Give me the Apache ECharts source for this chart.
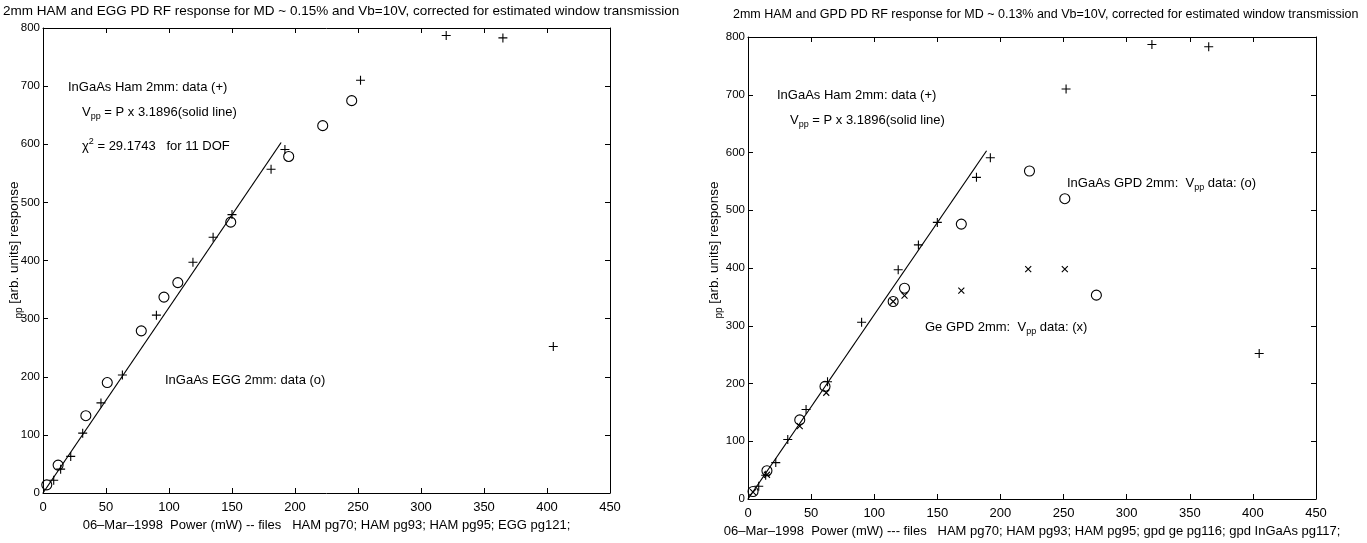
<!DOCTYPE html>
<html><head><meta charset="utf-8">
<script src="https://cdn.jsdelivr.net/npm/echarts@6/dist/echarts.min.js"></script>
<style>html,body{margin:0;padding:0;background:#fff}#c{width:1367px;height:543px}</style>
</head><body><div id="c"></div>
<script>
// ---- data ----
const xMin = 0, xMax = 450, xStep = 50;
const yMin = 0, yMax = 800, yStep = 100;

// InGaAs Hamamatsu 2mm, "+" markers (same data in both panels)
const hamPlus = [[8.5,22],[14,41],[22,63],[31.5,103],[46,155],[63,203],[90,306],[119,397],[135,440],[150,479],[181,557],[192,591],[252,710],[320,787],[365,783],[405,252]];
// fit: Vpp = P x 3.1896, drawn over the fitted range
const fitLine = [[0,0],[189,603]];
// InGaAs EG&G 2mm, "o" markers (left panel)
const eggCircle = [[3,14],[12,48],[34,133],[51,190],[78,279],[96,337],[107,362],[149,466],[195,579],[222,632],[245,675]];
// InGaAs GPD 2mm, "o" markers (right panel)
const gpdInGaAsCircle = [[4,13],[15,49],[41,137],[61,195],[115,342],[124,365],[169,476],[223,568],[251,520],[276,353]];
// Ge GPD 2mm, "x" markers (right panel)
const gpdGeCross = [[4,12],[15,42],[41,126],[62,184],[115,342],[124,352],[169,361],[222,398],[251,398]];

const titleLeft = '2mm HAM and EGG PD RF response for MD ~ 0.15% and Vb=10V, corrected for estimated window transmission';
const titleRight = '2mm HAM and GPD PD RF response for MD ~ 0.13% and Vb=10V, corrected for estimated window transmission';
const xNameLeft = '06\u2013Mar\u20131998  Power (mW) -- files   HAM pg70; HAM pg93; HAM pg95; EGG pg121;';
const xNameRight = '06\u2013Mar\u20131998  Power (mW) --- files   HAM pg70; HAM pg93; HAM pg95; gpd ge pg116; gpd InGaAs pg117;';
const yName = '{s|pp}{n| [arb. units] response}';

// ---- styling ----
const FONT = '"Liberation Sans", Arial, sans-serif';
const black = '#000';
const PLUS = 'path://M0,5L10,5M5,0L5,10';
const CROSS = 'path://M0,0L10,10M10,0L0,10';

function xAxes(gi, name){
  const base = {gridIndex:gi, type:'value', min:xMin, max:xMax, interval:xStep,
    axisLine:{onZero:false, lineStyle:{color:black, width:1}},
    axisTick:{inside:true, length:5, lineStyle:{color:black}},
    splitLine:{show:false}};
  return [
    Object.assign({}, base, {position:'bottom', name:name, nameLocation:'middle', nameGap:22,
      nameTextStyle:{color:black, fontSize:13, fontFamily:FONT, verticalAlign:'top'},
      axisLabel:{color:black, fontSize:13, fontFamily:FONT, margin:8}}),
    Object.assign({}, base, {position:'top', axisLabel:{show:false}})
  ];
}
function yAxes(gi){
  const base = {gridIndex:gi, type:'value', min:yMin, max:yMax, interval:yStep,
    axisLine:{onZero:false, lineStyle:{color:black, width:1}},
    axisTick:{inside:true, length:5, lineStyle:{color:black}},
    splitLine:{show:false}};
  return [
    Object.assign({}, base, {position:'left',
      axisLabel:{color:black, fontSize:11.5, fontFamily:FONT, margin:3}}),
    Object.assign({}, base, {position:'right', axisLabel:{show:false}})
  ];
}
const mk = (xi, yi, data, symbol, size) => ({type:'scatter', xAxisIndex:xi, yAxisIndex:yi, data:data,
  symbol:symbol, symbolSize:size, silent:true,
  itemStyle:{color:'transparent', borderColor:black, borderWidth:1.1, opacity:1}});
const mkLine = (xi, yi) => ({type:'line', xAxisIndex:xi, yAxisIndex:yi, data:fitLine, symbol:'none', silent:true,
  lineStyle:{color:black, width:1.2}});

const txt = (x, y, text, rich, size) => ({type:'text', x:x, y:y, silent:true,
  style:{text:text, fill:black, font:(size||13) + 'px ' + FONT, verticalAlign:'middle', align:'left', rich:rich}});
const richV = {a:{fontSize:13, fontFamily:FONT, fill:black, color:black},
  s:{fontSize:9, fontFamily:FONT, color:black, fill:black, padding:[10,0,0,0]},
  u:{fontSize:9, fontFamily:FONT, color:black, fill:black, padding:[0,0,9,0]}};
const richY = {n:{fontSize:13.5, fontFamily:FONT, fill:black, color:black},
  s:{fontSize:10, fontFamily:FONT, fill:black, color:black, padding:[10,0,0,0]}};
const ytxt = (x, y) => ({type:'text', x:x, y:y, rotation:Math.PI/2, silent:true,
  style:{text:yName, rich:richY, fill:black, font:'13.5px ' + FONT, align:'center', verticalAlign:'middle'}});

const option = {
  backgroundColor:'#fff',
  animation:false,
  grid:[
    {left:43, top:28, width:567, height:465, show:false},
    {left:748, top:37, width:568, height:462, show:false}
  ],
  xAxis:[].concat(xAxes(0, xNameLeft), xAxes(1, xNameRight)),
  yAxis:[].concat(yAxes(0), yAxes(1)),
  series:[
    mkLine(0,0),
    mk(0,0, hamPlus, PLUS, 9),
    mk(0,0, eggCircle, 'circle', 10),
    mkLine(2,2),
    mk(2,2, hamPlus, PLUS, 9),
    mk(2,2, gpdInGaAsCircle, 'circle', 10),
    mk(2,2, gpdGeCross, CROSS, 6)
  ],
  graphic:[
    txt(3, 11, titleLeft, null, 13.5),
    txt(733, 15, titleRight, null, 12.5),
    ytxt(14, 250),
    ytxt(714, 250),
    txt(68, 87, 'InGaAs Ham 2mm: data (+)'),
    txt(82, 112, '{a|V}{s|pp}{a| = P x 3.1896(solid line)}', richV),
    txt(82, 146, '{a|\u03c7}{u|2}{a| = 29.1743   for 11 DOF}', richV),
    txt(165, 380, 'InGaAs EGG 2mm: data (o)'),
    txt(777, 95, 'InGaAs Ham 2mm: data (+)'),
    txt(790, 120, '{a|V}{s|pp}{a| = P x 3.1896(solid line)}', richV),
    txt(1067, 183, '{a|InGaAs GPD 2mm:  V}{s|pp}{a| data: (o)}', richV),
    txt(925, 327, '{a|Ge GPD 2mm:  V}{s|pp}{a| data: (x)}', richV)
  ]
};
const chart = echarts.init(document.getElementById('c'), null, {renderer:'canvas'});
chart.setOption(option);
</script></body></html>
